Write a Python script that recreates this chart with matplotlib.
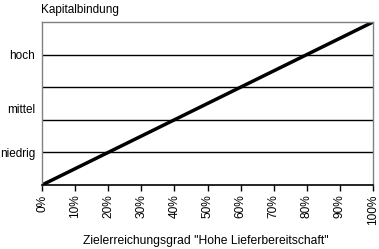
import numpy as np
import matplotlib.pyplot as plt

# Daten
x_werte = [0, 100]
y_werte = [0, 5]
x_ticks = list(range(0, 101, 10))
x_labels = [f'{v}%' for v in x_ticks]
gitter = [1, 2, 3, 4]
y_label_pos = [1, 2.35, 4]
y_labels = ['niedrig', 'mittel', 'hoch']

plt.rcParams['font.family'] = ['Liberation Sans', 'DejaVu Sans']

fig = plt.figure(figsize=(3.79, 2.49), dpi=100)
ax = fig.add_axes([42/379, 1 - 185/249, 331/379, 163/249])

for g in gitter:
    ax.axhline(g, color='black', lw=1)
ax.plot(x_werte, y_werte, color='black', lw=2.5, solid_capstyle='butt')

ax.set_xlim(0, 100)
ax.set_ylim(0, 5)
ax.set_xticks(x_ticks)
ax.set_xticklabels(x_labels, rotation=90, fontsize=8.6)
ax.tick_params(axis='x', direction='out', length=4, width=1, pad=3, color='black')
ax.set_yticks(y_label_pos)
ax.set_yticklabels(y_labels, fontsize=8.5)
ax.tick_params(axis='y', length=0, pad=5)

for s in ['left', 'right', 'top']:
    ax.spines[s].set_color('#808080')
    ax.spines[s].set_linewidth(1)
ax.spines['bottom'].set_color('black')
ax.spines['bottom'].set_linewidth(1.2)

# Achsentitel direkt in Figurkoordinaten platzieren
fig.text(206/379, 1 - 241/249, 'Zielerreichungsgrad "Hohe Lieferbereitschaft"',
         fontsize=8.7, va='center', ha='center')
fig.text(41/379, 1 - 10/249, 'Kapitalbindung', fontsize=8.5, va='center', ha='left')

fig.savefig('out.png', dpi=100)
